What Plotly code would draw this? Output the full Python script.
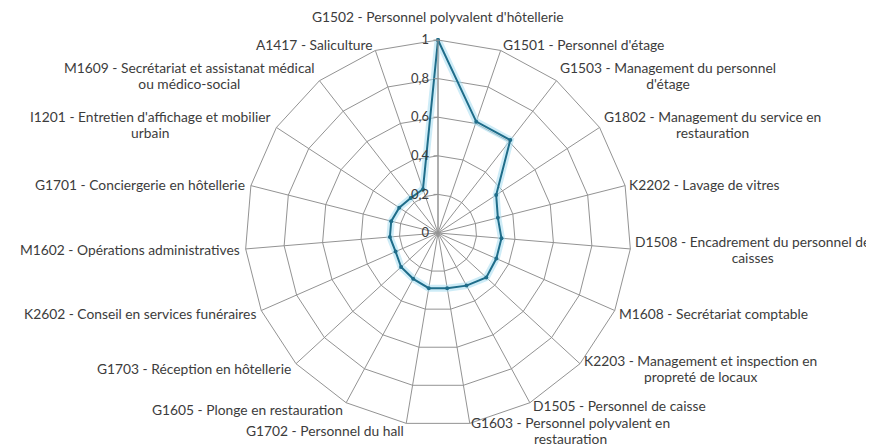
import math
import plotly.graph_objects as go

# ---- data ----
categories = [
    "G1502 - Personnel polyvalent d'hôtellerie",
    "G1501 - Personnel d'étage",
    "G1503 - Management du personnel<br>d'étage",
    "G1802 - Management du service en<br>restauration",
    "K2202 - Lavage de vitres",
    "D1508 - Encadrement du personnel de<br>caisses",
    "M1608 - Secrétariat comptable",
    "K2203 - Management et inspection en<br>propreté de locaux",
    "D1505 - Personnel de caisse",
    "G1603 - Personnel polyvalent en<br>restauration",
    "G1702 - Personnel du hall",
    "G1605 - Plonge en restauration",
    "G1703 - Réception en hôtellerie",
    "K2602 - Conseil en services funéraires",
    "M1602 - Opérations administratives",
    "G1701 - Conciergerie en hôtellerie",
    "I1201 - Entretien d'affichage et mobilier<br>urbain",
    "M1609 - Secrétariat et assistanat médical<br>ou médico-social",
    "A1417 - Saliculture",
]
values = [1.0, 0.61, 0.61, 0.36, 0.32, 0.33, 0.33, 0.34, 0.31, 0.29,
          0.29, 0.27, 0.26, 0.24, 0.25, 0.25, 0.24, 0.23, 0.24]
radial_ticks = [0, 0.2, 0.4, 0.6, 0.8, 1]

# ---- layout constants (page body has an 8px margin) ----
OFF = 8
W, H = 874 - OFF, 446 - OFF
cx, cy, R = 438 - OFF, 233 - OFF, 193
GRID = "#939393"
LINE = "#1f6d8a"
GLOW = "rgba(165,220,240,0.55)"
TXT = "#3c3c3c"
FONT = "Lato"
LABEL_PX = 13.8
LABEL_NUDGE_Y = {8: -4}   # small vertical nudge (px) for the crowded bottom label

theta_closed = categories + [categories[0]]
r_closed = values + [values[0]]

fig = go.Figure()
fig.add_trace(go.Scatterpolar(
    r=r_closed, theta=theta_closed, mode="lines",
    line=dict(color=GLOW, width=7), hoverinfo="skip", showlegend=False,
))
fig.add_trace(go.Scatterpolar(
    r=r_closed, theta=theta_closed, mode="lines+markers",
    line=dict(color=LINE, width=2), marker=dict(color=LINE, size=4),
    showlegend=False,
))

# category labels as annotations placed next to each outer vertex
N = len(categories)
annotations = []
for i, cat in enumerate(categories):
    a = 2 * math.pi * i / N
    s, c = math.sin(a), math.cos(a)
    vx = cx + R * s
    vy = cy - R * c
    if i == 0:
        x, y, xa = vx, vy - 23, "center"
    else:
        gap = 1 + (3.5 if s > 0 else 5) * abs(s)
        x = vx + gap if s > 0 else vx - gap
        y = vy + 0.5 - 6.8 * c + LABEL_NUDGE_Y.get(i, 0)
        xa = "left" if s > 0 else "right"
    text = "<br>".join(
        f'<span style="font-size:{LABEL_PX}px">{part}</span>' for part in cat.split("<br>")
    )
    annotations.append(dict(
        x=x / W, y=1 - y / H, xref="paper", yref="paper",
        text=text, showarrow=False, xanchor=xa, yanchor="middle", align="center",
        borderpad=0, borderwidth=0,
        font=dict(family=FONT, size=12, color=TXT),
    ))

fig.update_layout(
    width=W, height=H,
    margin=dict(l=0, r=0, t=0, b=0),
    paper_bgcolor="white", plot_bgcolor="white",
    separators=", ",
    font=dict(family=FONT, size=13, color=TXT),
    annotations=annotations,
    polar=dict(
        domain=dict(x=[(cx - R) / W, (cx + R) / W], y=[1 - (cy + R) / H, 1 - (cy - R) / H]),
        bgcolor="white",
        gridshape="linear",
        radialaxis=dict(
            range=[0, 1], tickvals=radial_ticks, angle=90, side="counterclockwise",
            tickangle=90, ticks="outside", ticklen=4, tickcolor=GRID,
            showline=True, linecolor=GRID,
            gridcolor=GRID, gridwidth=1, tickfont=dict(family=FONT, size=13, color=TXT),
        ),
        angularaxis=dict(
            direction="clockwise", rotation=90, showticklabels=False, ticks="",
            showline=True, linecolor=GRID, gridcolor=GRID, gridwidth=1,
        ),
    ),
)

fig.write_html("out.html")
